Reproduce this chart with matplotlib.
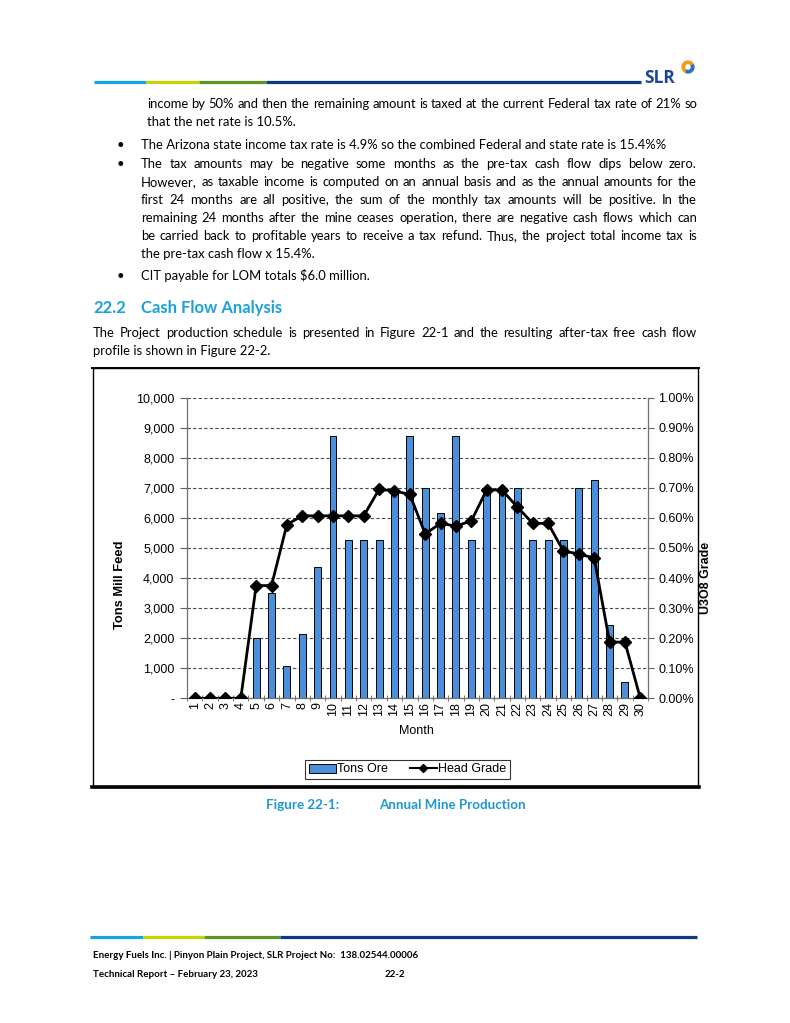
import matplotlib
matplotlib.use('Agg')
import matplotlib.pyplot as plt
from matplotlib.patches import Rectangle, Wedge, Patch
from matplotlib.lines import Line2D

# ---------------- data ----------------
months = list(range(1, 31))
tons_ore = [0, 0, 0, 0, 2000, 3500, 1060, 2140, 4380, 8740,
            5250, 5250, 5250, 6950, 8740, 7000, 6170, 8740, 5250, 7000,
            7000, 7000, 5250, 5250, 5250, 7000, 7270, 2430, 550, 0]
head_grade = [0.0, 0.0, 0.0, 0.0, 0.375, 0.375, 0.578, 0.607, 0.607, 0.607,
              0.607, 0.607, 0.695, 0.690, 0.678, 0.547, 0.582, 0.573, 0.590, 0.693,
              0.693, 0.636, 0.582, 0.582, 0.489, 0.481, 0.466, 0.187, 0.187, 0.0]
left_ticks = [0, 1000, 2000, 3000, 4000, 5000, 6000, 7000, 8000, 9000, 10000]
left_labels = ['-', '1,000', '2,000', '3,000', '4,000', '5,000', '6,000',
               '7,000', '8,000', '9,000', '10,000']
right_ticks = [0.0, 0.1, 0.2, 0.3, 0.4, 0.5, 0.6, 0.7, 0.8, 0.9, 1.0]
right_labels = ['0.00%', '0.10%', '0.20%', '0.30%', '0.40%', '0.50%',
                '0.60%', '0.70%', '0.80%', '0.90%', '1.00%']
series_names = ['Tons Ore', 'Head Grade']

# ---------------- page ----------------
W, H = 790, 1023
fig = plt.figure(figsize=(W / 100, H / 100), dpi=100)
fig.patch.set_facecolor('white')

BODY = ['Lato', 'DejaVu Sans']
CHART = ['Liberation Sans', 'DejaVu Sans']


def fx(x):
    return x / W


def fy(y):
    return 1 - y / H


renderer = fig.canvas.get_renderer()


def measure(s, **kw):
    t = fig.text(0, 0, s, **kw)
    w = t.get_window_extent(renderer).width
    t.remove()
    return w


def put(x, y, s, **kw):
    return fig.text(fx(x), fy(y), s, va='baseline', **kw)


def justified(x0, x1, y, line, **kw):
    words = line.split()
    widths = [measure(w_, **kw) for w_ in words]
    gap = (x1 - x0 - sum(widths)) / (len(words) - 1)
    x = x0
    for w_, wd in zip(words, widths):
        put(x, y, w_, **kw)
        x += wd + gap


body_kw = dict(family=BODY, fontsize=9.4, color='black')

# header rule + logo
seg_colors = ['#12A5DE', '#C5D300', '#5F9424', '#0A3C86']
hdr = [94, 146, 199, 266, 641]
for i, c in enumerate(seg_colors):
    fig.add_artist(Line2D([fx(hdr[i]), fx(hdr[i + 1])], [fy(82), fy(82)],
                          color=c, lw=2.3, solid_capstyle='butt'))
put(644, 83, 'SLR', family=['Open Sans', 'DejaVu Sans'], fontsize=12.5,
    fontweight='bold', color='#1F4597')
ax_logo = fig.add_axes([fx(681), fy(74), 14 / W, 14 / H])
ax_logo.set_xlim(-1, 1)
ax_logo.set_ylim(-1, 1)
ax_logo.set_aspect('equal')
ax_logo.axis('off')
ax_logo.add_patch(Wedge((0, 0), 0.85, 20, 250, width=0.35, color='#F39A1E'))
ax_logo.add_patch(Wedge((0, 0), 0.85, 250, 380, width=0.35, color='#2A6FC0'))

# body text
L0, L1, R = 141, 147, 697
justified(L1, R, 108, 'income by 50% and then the remaining amount is taxed at the current Federal tax rate of 21% so', **body_kw)
put(L1, 126, 'that the net rate is 10.5%.', **body_kw)
for yb in (149, 168, 280):
    put(117, yb, '\u2022', **body_kw)
put(L0, 149, 'The Arizona state income tax rate is 4.9% so the combined Federal and state rate is 15.4%%', **body_kw)
para = ['The tax amounts may be negative some months as the pre-tax cash flow dips below zero.',
        'However, as taxable income is computed on an annual basis and as the annual amounts for the',
        'first 24 months are all positive, the sum of the monthly tax amounts will be positive.  In the',
        'remaining 24 months after the mine ceases operation, there are negative cash flows which can',
        'be carried back to profitable years to receive a tax refund.  Thus, the project total income tax is']
for i, ln in enumerate(para):
    justified(L0, R, 168 + 18 * i, ln, **body_kw)
put(L0, 258, 'the pre-tax cash flow x 15.4%.', **body_kw)
put(L0, 280, 'CIT payable for LOM totals $6.0 million.', **body_kw)

head_col = '#1AA0DB'
put(93, 313, '22.2', family=BODY, fontsize=12.0, fontweight='bold', color=head_col)
put(141, 313, 'Cash Flow Analysis', family=BODY, fontsize=12.0, fontweight='bold', color=head_col)
justified(93, R, 337, 'The Project production schedule is presented in Figure 22-1 and the resulting after-tax free cash flow', **body_kw)
put(93, 355, 'profile is shown in Figure 22-2.', **body_kw)

# caption
cap_col = '#1B97D4'
put(266, 809, 'Figure 22-1:', family=BODY, fontsize=9.6, fontweight='bold', color=cap_col)
put(379, 809, 'Annual Mine Production', family=BODY, fontsize=9.6, fontweight='bold', color=cap_col)

# footer
ftr = [90, 143, 204, 280, 697]
for i, c in enumerate(seg_colors):
    fig.add_artist(Line2D([fx(ftr[i]), fx(ftr[i + 1])], [fy(937), fy(937)],
                          color=c, lw=2.3, solid_capstyle='butt'))
foot_kw = dict(family=BODY, fontsize=7.0, color='black', fontweight='bold')
put(93, 958, 'Energy Fuels Inc. | Pinyon Plain Project, SLR Project No:  138.02544.00006', **foot_kw)
put(93, 977, 'Technical Report \u2013 February 23, 2023', **foot_kw)
put(385, 977, '22-2', **foot_kw)

# ---------------- chart frame ----------------
fig.add_artist(Rectangle((fx(93), fy(787)), (698 - 93) / W, (787 - 368) / H,
                         transform=fig.transFigure, fill=False, lw=1.0, ec='black'))
fig.add_artist(Line2D([fx(92), fx(699)], [fy(787), fy(787)], color='black', lw=2.6))
fig.add_artist(Line2D([fx(92), fx(699)], [fy(368), fy(368)], color='black', lw=1.4))

# ---------------- chart ----------------
x0p, x1p, ytop, ybot = 187, 648, 397.7, 698.3
ax = fig.add_axes([fx(x0p), fy(ybot), (x1p - x0p) / W, (ybot - ytop) / H])
ax.bar(months, tons_ore, width=0.45, color='#4A8FDB', edgecolor='black',
       linewidth=0.7, label=series_names[0], zorder=2)
ax.set_xlim(0.5, 30.5)
ax.set_ylim(0, 10000)
ax.set_yticks(left_ticks)
ax.set_yticklabels(left_labels, family=CHART, fontsize=9.0)
ax.set_xticks(months)
ax.set_xticklabels([str(m) for m in months], rotation=90, family=CHART, fontsize=9.0)
ax.set_xticks([m + 0.5 for m in range(0, 31)], minor=True)
ax.tick_params(axis='x', which='major', length=0, pad=3)
ax.tick_params(axis='x', which='minor', length=5, direction='inout', color='#606060')
ax.tick_params(axis='y', length=5, direction='out', color='#606060', pad=4)
ax.yaxis.grid(True, ls=(0, (3, 2)), color='#4a4a4a', lw=0.8)
ax.set_axisbelow(True)
for s in ('top', 'right'):
    ax.spines[s].set_visible(False)
for s in ('left', 'bottom'):
    ax.spines[s].set_color('#707070')
    ax.spines[s].set_linewidth(0.9)
ax.patch.set_alpha(0)

ax2 = ax.twinx()
ax2.plot(months, head_grade, color='black', lw=2.0, marker='D', markersize=6,
         label=series_names[1], zorder=3)
ax2.set_ylim(0, 1.0)
ax2.set_yticks(right_ticks)
ax2.set_yticklabels(right_labels, family=CHART, fontsize=9.0)
ax2.tick_params(axis='y', length=4, direction='out', color='#606060', pad=3.5)
for s in ('top', 'left', 'bottom'):
    ax2.spines[s].set_visible(False)
ax2.spines['right'].set_color('#707070')
ax2.spines['right'].set_linewidth(0.9)
ax2.set_xlim(0.5, 30.5)

fig.text(fx(416), fy(731), 'Month', family=CHART, fontsize=9.0, ha='center', va='center')
fig.text(fx(120), fy(585), 'Tons Mill Feed', family=CHART, fontsize=9.3,
         fontweight='bold', rotation=90, ha='center', va='center')
fig.text(fx(706), fy(578), 'U3O8 Grade', family=CHART, fontsize=9.0,
         fontweight='bold', rotation=90, ha='center', va='center')

handles = [Patch(facecolor='#4A8FDB', edgecolor='black', lw=0.7),
           Line2D([], [], color='black', lw=1.5, marker='D', markersize=4)]
leg = fig.legend(handles, series_names, loc='center', bbox_to_anchor=(fx(407.5), fy(769.5)),
                 ncol=2, frameon=True, fancybox=False, edgecolor='black',
                 prop={'family': CHART, 'size': 9.0}, handlelength=2.2,
                 handleheight=0.7, handletextpad=0.1, columnspacing=1.7,
                 borderpad=0.3, borderaxespad=0)
leg.get_frame().set_linewidth(0.8)

fig.savefig('out.png', dpi=100, facecolor='white')
